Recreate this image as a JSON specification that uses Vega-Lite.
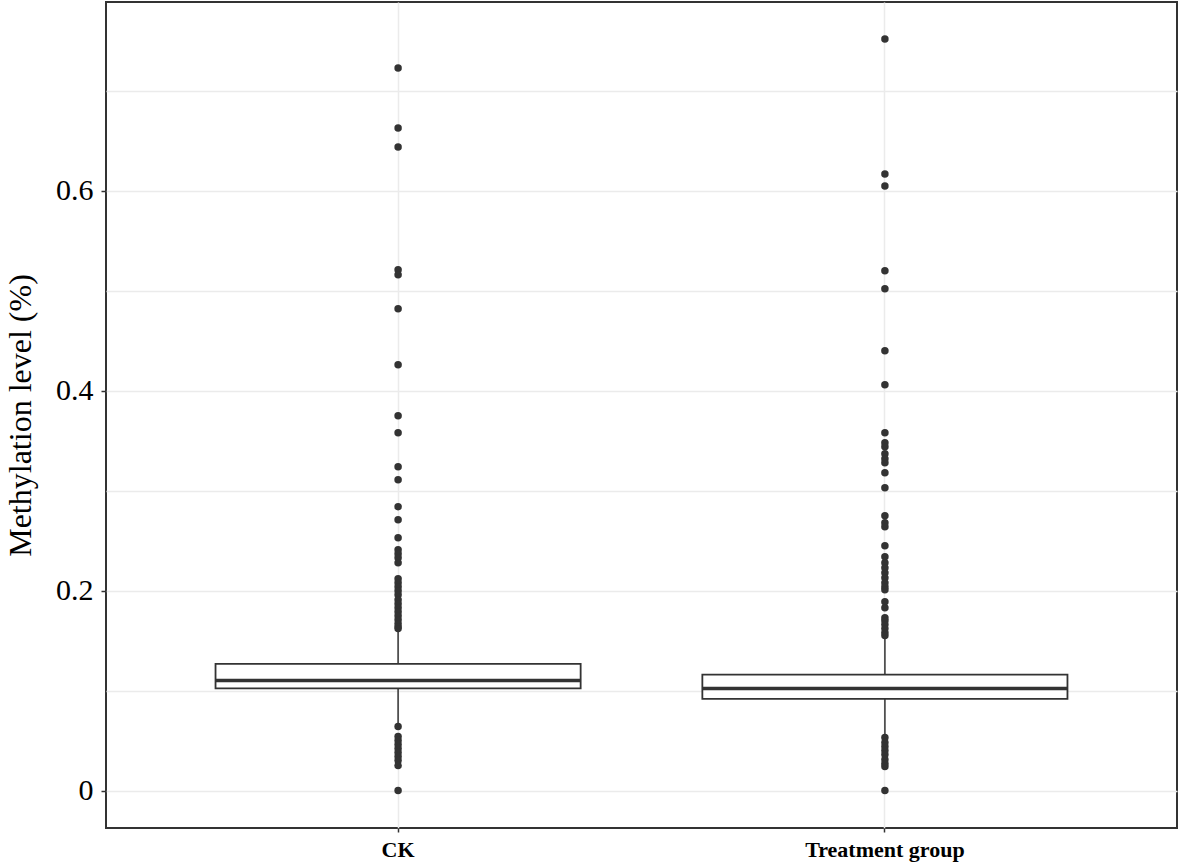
{
  "$schema": "https://vega.github.io/schema/vega-lite/v6.json",
  "autosize": {"type": "none"},
  "padding": {"left": 106, "top": 2, "right": 4, "bottom": 38},
  "width": 1071,
  "height": 826,
  "background": "white",
  "config": {
    "view": {"stroke": "#333333", "strokeWidth": 2},
    "font": "Liberation Serif"
  },
  "datasets": {
    "boxes": [
      {"group": "CK", "lower": 0.066, "q1": 0.1023, "median": 0.110, "q3": 0.1267, "upper": 0.161},
      {"group": "Treatment group", "lower": 0.056, "q1": 0.0917, "median": 0.102, "q3": 0.116, "upper": 0.154}
    ],
    "outliers": [
      {"group": "CK", "value": 0.723}, {"group": "CK", "value": 0.663}, {"group": "CK", "value": 0.644},
      {"group": "CK", "value": 0.521}, {"group": "CK", "value": 0.516}, {"group": "CK", "value": 0.482},
      {"group": "CK", "value": 0.426}, {"group": "CK", "value": 0.375}, {"group": "CK", "value": 0.358},
      {"group": "CK", "value": 0.324}, {"group": "CK", "value": 0.311}, {"group": "CK", "value": 0.284},
      {"group": "CK", "value": 0.271}, {"group": "CK", "value": 0.253}, {"group": "CK", "value": 0.241},
      {"group": "CK", "value": 0.237}, {"group": "CK", "value": 0.233}, {"group": "CK", "value": 0.228},
      {"group": "CK", "value": 0.212}, {"group": "CK", "value": 0.208}, {"group": "CK", "value": 0.204},
      {"group": "CK", "value": 0.200}, {"group": "CK", "value": 0.196}, {"group": "CK", "value": 0.191},
      {"group": "CK", "value": 0.187}, {"group": "CK", "value": 0.183}, {"group": "CK", "value": 0.179},
      {"group": "CK", "value": 0.175}, {"group": "CK", "value": 0.171}, {"group": "CK", "value": 0.167},
      {"group": "CK", "value": 0.164}, {"group": "CK", "value": 0.162},
      {"group": "CK", "value": 0.064}, {"group": "CK", "value": 0.054}, {"group": "CK", "value": 0.050},
      {"group": "CK", "value": 0.046}, {"group": "CK", "value": 0.042}, {"group": "CK", "value": 0.038},
      {"group": "CK", "value": 0.034}, {"group": "CK", "value": 0.030}, {"group": "CK", "value": 0.025},
      {"group": "CK", "value": 0.0},
      {"group": "Treatment group", "value": 0.752}, {"group": "Treatment group", "value": 0.617},
      {"group": "Treatment group", "value": 0.605}, {"group": "Treatment group", "value": 0.520},
      {"group": "Treatment group", "value": 0.502}, {"group": "Treatment group", "value": 0.440},
      {"group": "Treatment group", "value": 0.406}, {"group": "Treatment group", "value": 0.358},
      {"group": "Treatment group", "value": 0.348}, {"group": "Treatment group", "value": 0.344},
      {"group": "Treatment group", "value": 0.337}, {"group": "Treatment group", "value": 0.332},
      {"group": "Treatment group", "value": 0.328}, {"group": "Treatment group", "value": 0.318},
      {"group": "Treatment group", "value": 0.303}, {"group": "Treatment group", "value": 0.275},
      {"group": "Treatment group", "value": 0.268}, {"group": "Treatment group", "value": 0.264},
      {"group": "Treatment group", "value": 0.245}, {"group": "Treatment group", "value": 0.234},
      {"group": "Treatment group", "value": 0.228}, {"group": "Treatment group", "value": 0.223},
      {"group": "Treatment group", "value": 0.218}, {"group": "Treatment group", "value": 0.213},
      {"group": "Treatment group", "value": 0.208}, {"group": "Treatment group", "value": 0.204},
      {"group": "Treatment group", "value": 0.201}, {"group": "Treatment group", "value": 0.189},
      {"group": "Treatment group", "value": 0.183}, {"group": "Treatment group", "value": 0.173},
      {"group": "Treatment group", "value": 0.170}, {"group": "Treatment group", "value": 0.166},
      {"group": "Treatment group", "value": 0.162}, {"group": "Treatment group", "value": 0.158},
      {"group": "Treatment group", "value": 0.155},
      {"group": "Treatment group", "value": 0.053}, {"group": "Treatment group", "value": 0.048},
      {"group": "Treatment group", "value": 0.044}, {"group": "Treatment group", "value": 0.040},
      {"group": "Treatment group", "value": 0.036}, {"group": "Treatment group", "value": 0.031},
      {"group": "Treatment group", "value": 0.027}, {"group": "Treatment group", "value": 0.024},
      {"group": "Treatment group", "value": 0.0}
    ]
  },
  "encoding": {
    "x": {
      "field": "group",
      "type": "nominal",
      "scale": {"paddingInner": 0.25, "paddingOuter": 0.225},
      "axis": {
        "title": null,
        "labelAngle": 0,
        "labelFont": "Liberation Serif",
        "labelFontSize": 22,
        "labelFontWeight": "bold",
        "labelColor": "#000000",
        "labelPadding": 7,
        "domain": false,
        "tickColor": "#333333",
        "tickSize": 4,
        "tickWidth": 1.5,
        "grid": true,
        "gridColor": "#ebebeb",
        "gridWidth": 1.5
      }
    }
  },
  "layer": [
    {
      "data": {"name": "boxes"},
      "mark": {"type": "rule", "color": "#333333", "strokeWidth": 1.5},
      "encoding": {
        "y": {
          "field": "lower",
          "type": "quantitative",
          "scale": {"domain": [-0.0375, 0.789], "nice": false, "zero": false},
          "axis": {
            "title": "Methylation level (%)",
            "titleFont": "Liberation Serif",
            "titleFontSize": 32,
            "titleFontWeight": "normal",
            "titleColor": "#000000",
            "titlePadding": 18,
            "values": [0, 0.1, 0.2, 0.3, 0.4, 0.5, 0.6, 0.7],
            "labelExpr": "(round(datum.value * 10) % 2 == 0) ? (datum.value == 0 ? '0' : format(datum.value, '.1f')) : ''",
            "labelFont": "Liberation Serif",
            "labelFontSize": 30,
            "labelColor": "#000000",
            "labelPadding": 8,
            "domain": false,
            "tickColor": "#333333",
            "tickSize": 5,
            "tickWidth": 1.5,
            "tickOpacity": {"condition": {"test": "round(datum.value * 10) % 2 == 0", "value": 1}, "value": 0},
            "grid": true,
            "gridColor": "#ebebeb",
            "gridWidth": 1.5
          }
        },
        "y2": {"field": "q1"}
      }
    },
    {
      "data": {"name": "boxes"},
      "mark": {"type": "rule", "color": "#333333", "strokeWidth": 1.5},
      "encoding": {
        "y": {"field": "q3", "type": "quantitative"},
        "y2": {"field": "upper"}
      }
    },
    {
      "data": {"name": "boxes"},
      "mark": {"type": "bar", "fill": "white", "stroke": "#333333", "strokeWidth": 1.8},
      "encoding": {
        "y": {"field": "q1", "type": "quantitative"},
        "y2": {"field": "q3"}
      }
    },
    {
      "data": {"name": "boxes"},
      "mark": {"type": "tick", "color": "#333333", "opacity": 1, "thickness": 3.5, "size": 365, "orient": "horizontal"},
      "encoding": {
        "y": {"field": "median", "type": "quantitative"}
      }
    },
    {
      "data": {"name": "outliers"},
      "mark": {"type": "point", "filled": true, "color": "#333333", "opacity": 1, "size": 56},
      "encoding": {
        "y": {"field": "value", "type": "quantitative"}
      }
    }
  ]
}
